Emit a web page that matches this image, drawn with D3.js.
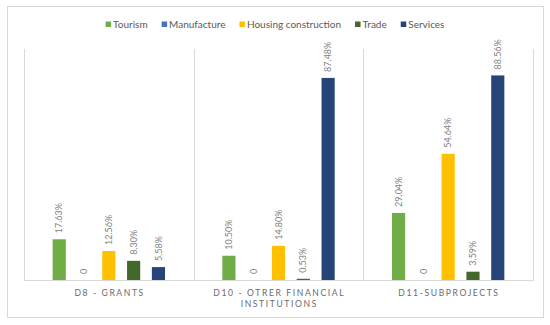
<!DOCTYPE html>
<html>
<head>
<meta charset="utf-8">
<script src="https://cdn.jsdelivr.net/npm/d3@7"></script>
<style>
  html, body { margin: 0; padding: 0; background: #ffffff; }
  svg { display: block; font-family: Lato, "Open Sans", sans-serif; }
</style>
</head>
<body>
<svg id="chart" width="550" height="325"></svg>
<script>
// ---- data ----
const categories = ["D8 - GRANTS", "D10 - OTRER FINANCIAL INSTITUTIONS", "D11-SUBPROJECTS"];
const categoryLines = [["D8 - GRANTS"], ["D10 - OTRER FINANCIAL", "INSTITUTIONS"], ["D11-SUBPROJECTS"]];
const series = ["Tourism", "Manufacture", "Housing construction", "Trade", "Services"];
const tourism = [17.63, 10.50, 29.04];
const manufacture = [0, 0, 0];
const housing = [12.56, 14.80, 54.64];
const trade = [8.30, 0.53, 3.59];
const services = [5.58, 87.48, 88.56];
const labels = [
  ["17.63%", "0", "12.56%", "8.30%", "5.58%"],
  ["10.50%", "0", "14.80%", "0.53%", "87.48%"],
  ["29.04%", "0", "54.64%", "3.59%", "88.56%"]
];
const colors = ["#70AD47", "#4472C4", "#FFC000", "#43682B", "#264478"];

const values = [tourism, manufacture, housing, trade, services];

const svg = d3.select("#chart");

// outer frame
svg.append("rect").attr("x", 7.5).attr("y", 6.5).attr("width", 536).attr("height", 311)
  .attr("fill", "#fff").attr("stroke", "#d9d9d9").attr("stroke-width", 1);

const plot = { left: 24, right: 533, top: 49, bottom: 280 };

const x0 = d3.scaleBand().domain(categories).range([plot.left, plot.right]).paddingInner(0).paddingOuter(0);
const x1 = d3.scaleBand().domain(series).range([0, x0.bandwidth()]).paddingInner(0.47).paddingOuter(1.155);
const y = d3.scaleLinear().domain([0, 100]).range([plot.bottom, plot.top]);

// vertical gridlines (category boundaries)
const bounds = categories.map(c => x0(c)).concat([plot.right]);
svg.append("g").selectAll("line").data(bounds).join("line")
  .attr("x1", d => Math.round(d) + 0.5).attr("x2", d => Math.round(d) + 0.5)
  .attr("y1", plot.top).attr("y2", plot.bottom)
  .attr("stroke", "#d9d9d9").attr("stroke-width", 1);

// bars
const data = [];
categories.forEach((c, ci) => {
  series.forEach((s, si) => {
    data.push({ c, s, si, v: values[si][ci], label: labels[ci][si] });
  });
});

svg.append("g").selectAll("rect").data(data).join("rect")
  .attr("x", d => x0(d.c) + x1(d.s))
  .attr("width", x1.bandwidth())
  .attr("y", d => y(d.v))
  .attr("height", d => y(0) - y(d.v))
  .attr("fill", d => colors[d.si]);

// baseline axis
svg.append("line").attr("x1", plot.left).attr("x2", plot.right + 1)
  .attr("y1", plot.bottom + 0.5).attr("y2", plot.bottom + 0.5)
  .attr("stroke", "#d9d9d9").attr("stroke-width", 1);

// data labels (rotated)
svg.append("g").selectAll("text").data(data).join("text")
  .attr("transform", d => `translate(${x0(d.c) + x1(d.s) + x1.bandwidth() / 2},${y(d.v) - 6}) rotate(-90)`)
  .attr("dy", "0.35em")
  .attr("text-anchor", "start")
  .attr("font-size", 9)
  .attr("fill", "#7f7f7f")
  .text(d => d.label);

// category labels
const catG = svg.append("g");
categories.forEach((c, ci) => {
  const t = catG.append("text")
    .attr("x", x0(c) + x0.bandwidth() / 2)
    .attr("y", 296)
    .attr("text-anchor", "middle")
    .attr("font-size", 8.6)
    .attr("letter-spacing", "1.6px")
    .attr("fill", "#6b6b6b");
  categoryLines[ci].forEach((ln, li) => {
    t.append("tspan").attr("x", x0(c) + x0.bandwidth() / 2 + 0.8).attr("dy", li === 0 ? 0 : 11).text(ln);
  });
});

// legend
const legend = svg.append("g");
const items = [];
let cx = 0;
series.forEach((s, i) => {
  const g = legend.append("g");
  g.append("rect").attr("x", 0).attr("y", -6).attr("width", 5.5).attr("height", 5.5).attr("fill", colors[i]);
  const t = g.append("text").attr("x", 7.5).attr("y", 0).attr("font-size", 10).attr("fill", "#595959").text(s);
  const w = 7.5 + t.node().getComputedTextLength();
  items.push({ g, off: cx });
  cx += w + (i < series.length - 1 ? 14 : 0);
});
const startX = 275 - cx / 2;
items.forEach(it => it.g.attr("transform", `translate(${startX + it.off},27.5)`));
</script>
</body>
</html>
